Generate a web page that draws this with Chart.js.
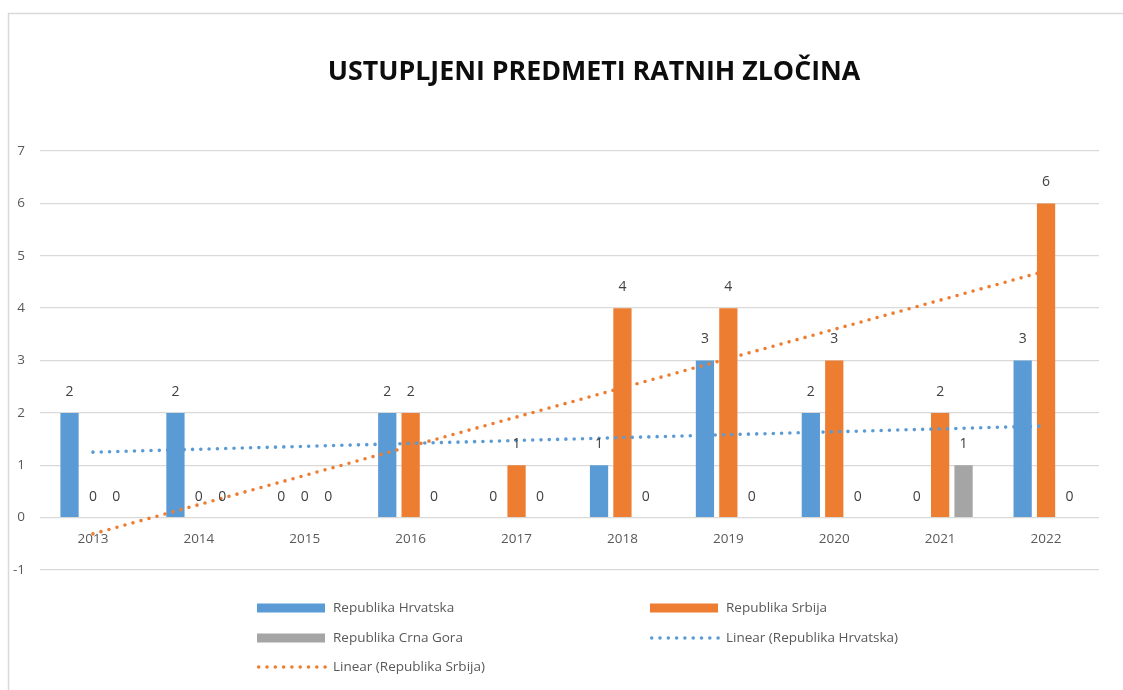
<!DOCTYPE html>
<html>
<head>
<meta charset="utf-8">
<script src="https://cdn.jsdelivr.net/npm/chart.js@4.4.1/dist/chart.umd.min.js"></script>
<style>
  body{margin:0;background:#fff;}
  #wrap{width:1123px;height:690px;position:relative;}
</style>
</head>
<body>
<div id="wrap"><canvas id="grafik"></canvas></div>
<script>
// --- Podaci ---
const godine = ['2013','2014','2015','2016','2017','2018','2019','2020','2021','2022'];
const hrvatska = [2,2,0,2,0,1,3,2,0,3];
const srbija = [0,0,0,2,1,4,4,3,2,6];
const crnaGora = [0,0,0,0,0,0,0,0,1,0];
// linearni trend, ocitan s grafa (samo krajnje tocke)
const trendHrvatska = [1.25,null,null,null,null,null,null,null,null,1.75];
const trendSrbija = [-0.31,null,null,null,null,null,null,null,null,4.71];
const naslov = 'USTUPLJENI PREDMETI RATNIH ZLOČINA';

const PLAVA='#5B9BD5', NARANCASTA='#ED7D31', SIVA='#A5A5A5';
const FONT='"Open Sans", sans-serif';

// --- Plugin: okvir, naslov, oznake vrijednosti, legenda ---
const dodaci = {
  id:'dodaci',
  beforeDraw(chart){
    const c=chart.ctx;
    c.save();
    c.strokeStyle='#d9d9d9'; c.lineWidth=1.5;
    c.strokeRect(8.5,13.5,1300,900);
    c.restore();
  },
  afterDatasetsDraw(chart){
    const c=chart.ctx;
    c.save();
    c.font='14px '+FONT; c.fillStyle='#404040';
    c.textAlign='center'; c.textBaseline='middle';
    chart.data.datasets.forEach((ds,di)=>{
      if(ds.type==='line') return;
      chart.getDatasetMeta(di).data.forEach((el,i)=>{
        c.fillText(String(ds.data[i]), el.x, el.y-21);
      });
    });
    c.restore();
  },
  afterDraw(chart){
    const c=chart.ctx;
    c.save();
    // naslov
    let vel=29;
    c.font='bold '+vel+'px '+FONT;
    vel = vel*533/c.measureText(naslov).width;
    c.font='bold '+vel+'px '+FONT;
    c.fillStyle='#0d0d0d'; c.textAlign='center'; c.textBaseline='middle';
    c.fillText(naslov,594,72);

    // legenda
    const stavke=[
      {t:'Republika Hrvatska', b:PLAVA, x:257, y:608},
      {t:'Republika Srbija', b:NARANCASTA, x:650, y:608},
      {t:'Republika Crna Gora', b:SIVA, x:257, y:638},
      {t:'Linear (Republika Hrvatska)', b:PLAVA, x:650, y:638, tocke:true},
      {t:'Linear (Republika Srbija)', b:NARANCASTA, x:257, y:667, tocke:true}
    ];
    c.font='13.5px '+FONT; c.textAlign='left';
    stavke.forEach(s=>{
      c.fillStyle=s.b;
      if(s.tocke){
        for(let k=0;k<9;k++){
          c.beginPath(); c.arc(s.x+1.7+k*8.3, s.y, 1.8, 0, Math.PI*2); c.fill();
        }
      } else {
        c.fillRect(s.x, s.y-4.5, 68, 9);
      }
      c.fillStyle='#595959';
      c.fillText(s.t, s.x+76, s.y);
    });
    c.restore();
  }
};

const trendOpcije = {
  type:'line', order:-1, pointRadius:0, borderWidth:3.6, spanGaps:true,
  borderCapStyle:'round', borderDash:[0,8.3], fill:false, tension:0
};

new Chart(document.getElementById('grafik'),{
  data:{
    labels:godine,
    datasets:[
      {type:'bar', label:'Republika Hrvatska', data:hrvatska, backgroundColor:PLAVA},
      {type:'bar', label:'Republika Srbija', data:srbija, backgroundColor:NARANCASTA},
      {type:'bar', label:'Republika Crna Gora', data:crnaGora, backgroundColor:SIVA},
      Object.assign({label:'Linear (Republika Hrvatska)', data:trendHrvatska, borderColor:PLAVA}, trendOpcije),
      Object.assign({label:'Linear (Republika Srbija)', data:trendSrbija, borderColor:NARANCASTA}, trendOpcije)
    ]
  },
  options:{
    responsive:true, maintainAspectRatio:false, animation:false,
    layout:{padding:{left:0, right:24, top:151, bottom:120}},
    datasets:{bar:{categoryPercentage:0.663, barPercentage:0.78}},
    plugins:{legend:{display:false}, title:{display:false}, tooltip:{enabled:false}},
    scales:{
      x:{
        position:{y:0},
        grid:{display:false, drawTicks:false},
        border:{display:false},
        ticks:{color:'#595959', font:{family:FONT, size:13.5}, padding:13, maxRotation:0}
      },
      y:{
        min:-1, max:7,
        afterFit(s){ s.width=40; },
        grid:{color:'#d9d9d9', lineWidth:1.3, drawTicks:false},
        border:{display:false},
        ticks:{stepSize:1, color:'#595959', font:{family:FONT, size:13.5}, padding:15}
      }
    }
  },
  plugins:[dodaci]
});
</script>
</body>
</html>
